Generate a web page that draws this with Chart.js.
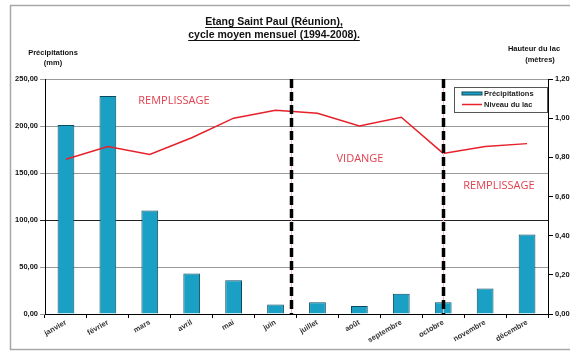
<!DOCTYPE html>
<html>
<head>
<meta charset="utf-8">
<script src="https://cdn.jsdelivr.net/npm/chart.js@4.4.0/dist/chart.umd.min.js"></script>
<style>
  body { margin: 0; background: #fff; }
  #wrap { width: 570px; height: 352px; }
</style>
</head>
<body>
<div id="wrap"><canvas id="myChart" width="570" height="352"></canvas></div>
<script>
const months = ['janvier', 'février', 'mars', 'avril', 'mai', 'juin', 'juillet', 'août', 'septembre', 'octobre', 'novembre', 'décembre'];
const precipitations = [201, 232, 110, 43, 36, 10, 12.5, 8.5, 21.5, 12.5, 27, 84.5];
const niveauLac = [0.79, 0.855, 0.815, 0.9, 1.0, 1.04, 1.025, 0.96, 1.005, 0.82, 0.855, 0.87];
const phaseLabels = [
    { text: 'REMPLISSAGE', x: 174, y: 101 },
    { text: 'VIDANGE', x: 360, y: 159 },
    { text: 'REMPLISSAGE', x: 499, y: 186 }
];
// positions of the dashed separators, in category index units
const separators = [5.36, 9];

const fmt = v => v.toFixed(2).replace('.', ',');

const decorPlugin = {
    id: 'decor',
    beforeDraw(chart) {
        const ctx = chart.ctx;
        ctx.save();
        ctx.strokeStyle = '#a8a8a8';
        ctx.lineWidth = 1.5;
        ctx.strokeRect(10.5, 5.5, 620, 344);

        // title
        ctx.fillStyle = '#111';
        ctx.font = 'bold 10.5px "Liberation Sans", Arial, sans-serif';
        ctx.textAlign = 'center';
        ctx.textBaseline = 'alphabetic';
        const lines = [['Etang Saint Paul (Réunion),', 25], ['cycle moyen mensuel (1994-2008).', 38]];
        ctx.lineWidth = 1;
        ctx.strokeStyle = '#111';
        lines.forEach(([t, y]) => {
            ctx.fillText(t, 274, y);
            const w = ctx.measureText(t).width;
            ctx.beginPath();
            ctx.moveTo(274 - w / 2, y + 2.5);
            ctx.lineTo(274 + w / 2, y + 2.5);
            ctx.stroke();
        });

        // axis titles
        ctx.font = 'bold 7.5px "Liberation Sans", Arial, sans-serif';
        ctx.fillText('Précipitations', 53, 55);
        ctx.fillText('(mm)', 53, 65);
        ctx.fillText('Hauteur du lac', 534, 51);
        ctx.fillText('(mètres)', 540, 62);
        ctx.restore();
    },
    afterDatasetsDraw(chart) {
        const ctx = chart.ctx;
        const area = chart.chartArea;
        const xs = chart.scales.x;
        ctx.save();
        separators.forEach(s => {
            const x = Math.round(xs.getPixelForValue(s));
            ctx.strokeStyle = '#f0b8c0';
            ctx.lineWidth = 1;
            ctx.setLineDash([]);
            ctx.beginPath();
            ctx.moveTo(x + 0.5, area.top);
            ctx.lineTo(x + 0.5, area.bottom);
            ctx.stroke();
            ctx.strokeStyle = '#000';
            ctx.lineWidth = 3.5;
            ctx.setLineDash([9, 4]);
            ctx.beginPath();
            ctx.moveTo(x + 0.5, area.top);
            ctx.lineTo(x + 0.5, area.bottom);
            ctx.stroke();
        });
        ctx.setLineDash([]);

        // phase labels
        ctx.fillStyle = '#e2404f';
        ctx.font = '11px "Open Sans", "Liberation Sans", sans-serif';
        ctx.textAlign = 'center';
        ctx.textBaseline = 'middle';
        phaseLabels.forEach(p => ctx.fillText(p.text, p.x, p.y));

        // legend
        ctx.fillStyle = '#fff';
        ctx.fillRect(454, 87, 93, 25);
        ctx.strokeStyle = '#555';
        ctx.lineWidth = 1;
        ctx.strokeRect(454.5, 87.5, 93, 25);
        ctx.fillStyle = '#1aa0c4';
        ctx.fillRect(462, 92, 20, 3);
        ctx.strokeStyle = '#0b4a5e';
        ctx.strokeRect(462, 92, 20, 3);
        ctx.strokeStyle = '#e8202a';
        ctx.lineWidth = 1.5;
        ctx.beginPath();
        ctx.moveTo(462, 104.5);
        ctx.lineTo(482, 104.5);
        ctx.stroke();
        ctx.fillStyle = '#222';
        ctx.font = 'bold 7.5px "Liberation Sans", Arial, sans-serif';
        ctx.textAlign = 'left';
        ctx.fillText('Précipitations', 484, 94);
        ctx.fillText('Niveau du lac', 484, 105);
        ctx.restore();
    }
};

const ctx = document.getElementById('myChart').getContext('2d');
const myChart = new Chart(ctx, {
    type: 'bar',
    data: {
        labels: months,
        datasets: [
            {
                type: 'line',
                label: 'Niveau du lac',
                data: niveauLac,
                yAxisID: 'y1',
                borderColor: '#e8202a',
                borderWidth: 1.5,
                pointRadius: 0,
                tension: 0,
                order: 0
            },
            {
                label: 'Précipitations',
                data: precipitations,
                yAxisID: 'y',
                backgroundColor: '#1aa0c4',
                borderColor: '#0b4a5e',
                borderWidth: 1,
                categoryPercentage: 1,
                barPercentage: 0.4,
                order: 1
            }
        ]
    },
    options: {
        responsive: false,
        animation: false,
        layout: { padding: { top: 79, left: 0, right: 0, bottom: 0 } },
        plugins: {
            legend: { display: false },
            tooltip: { enabled: false }
        },
        scales: {
            x: {
                grid: { offset: true, drawOnChartArea: false, tickLength: 4, color: '#000' },
                border: { color: '#000', width: 1 },
                ticks: {
                    minRotation: 30, maxRotation: 30,
                    color: '#333',
                    font: { family: '"Liberation Sans", Arial, sans-serif', size: 7.5, weight: 'bold' },
                    padding: 0
                },
                afterFit(scale) { scale.height = 38; }
            },
            y: {
                position: 'left',
                min: 0, max: 250,
                ticks: {
                    stepSize: 50,
                    callback: v => fmt(v),
                    color: '#111',
                    padding: 2,
                    font: { family: '"Liberation Sans", Arial, sans-serif', size: 7.5, weight: 'bold' }
                },
                grid: {
                    tickLength: 5,
                    color: c => (c.tick && c.tick.value === 100 ? '#222' : '#9a9a9a'),
                    lineWidth: 1
                },
                border: { color: '#000', width: 1 },
                afterFit(scale) { scale.width = 45; }
            },
            y1: {
                position: 'right',
                min: 0, max: 1.2,
                ticks: {
                    stepSize: 0.2,
                    callback: v => fmt(v),
                    color: '#111',
                    padding: 2,
                    font: { family: '"Liberation Sans", Arial, sans-serif', size: 7.5, weight: 'bold' }
                },
                grid: { drawOnChartArea: false, tickLength: 5, color: '#000' },
                border: { color: '#000', width: 1 },
                afterFit(scale) { scale.width = 22; }
            }
        }
    },
    plugins: [decorPlugin]
});
</script>
</body>
</html>
